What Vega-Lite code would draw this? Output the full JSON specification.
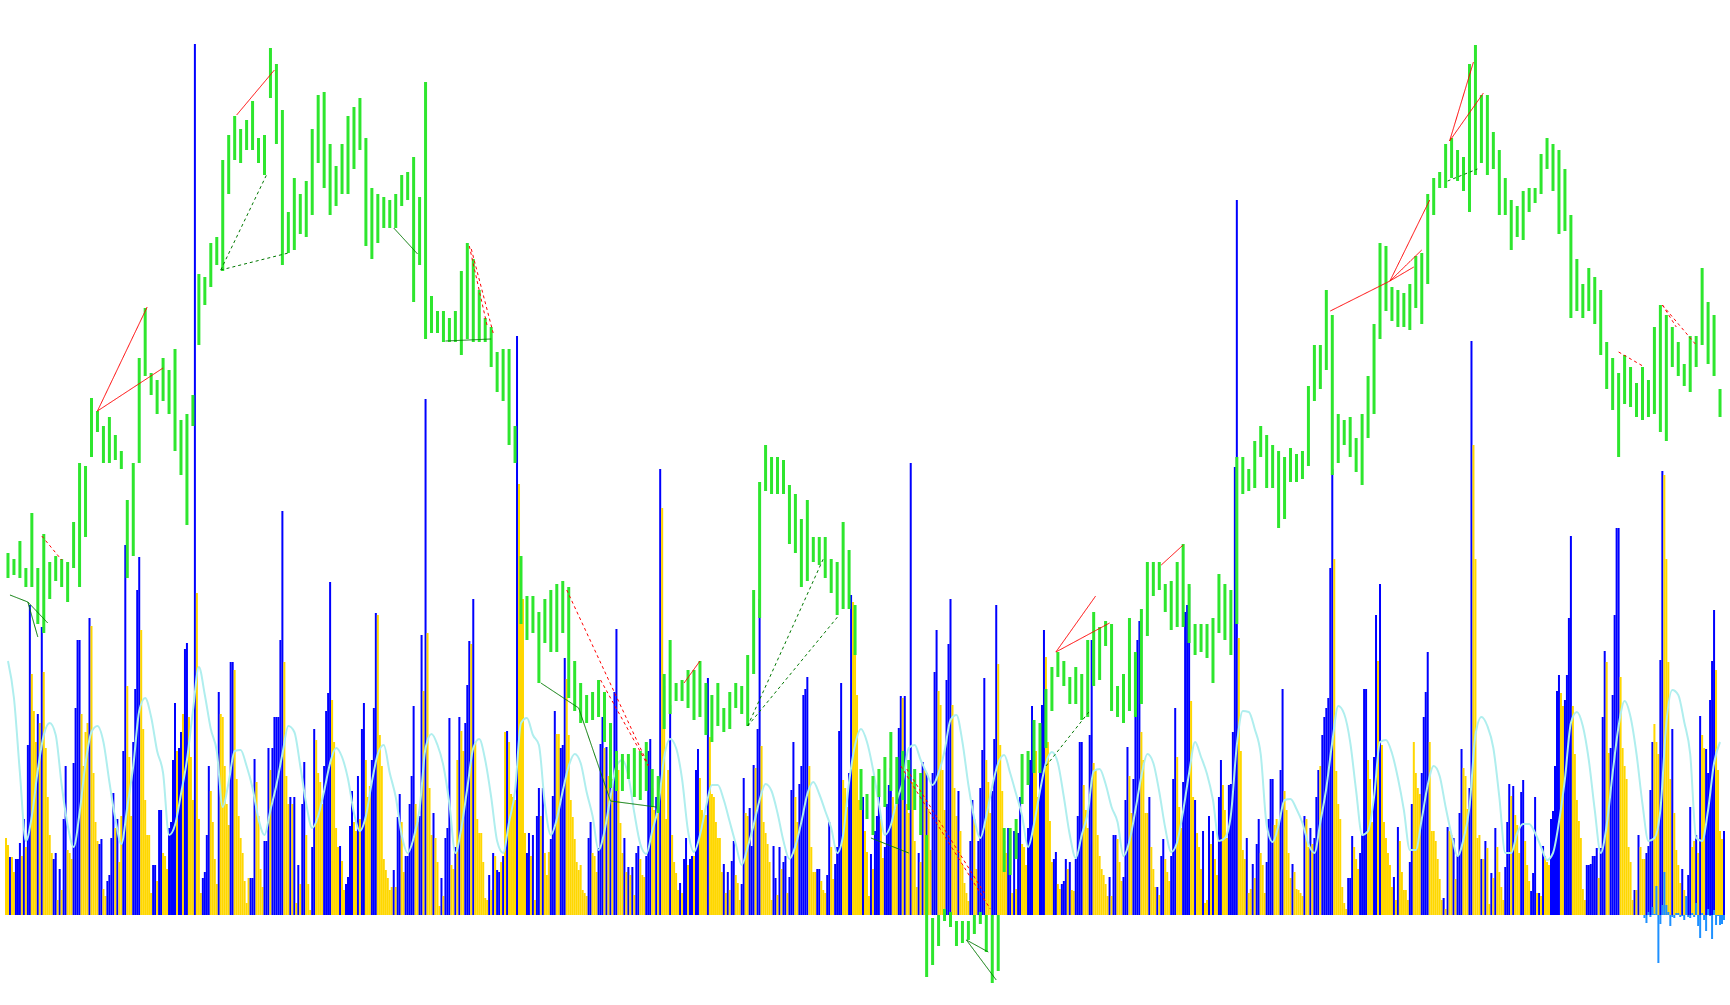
{
"$schema":"https://vega.github.io/schema/vega-lite/v6.json",
"width":1730,"height":1005,
"autosize":{"type":"fit","contains":"padding"},
"padding":0,
"background":"white",
"config":{"view":{"stroke":null}},
"resolve":{"scale":{"color":"independent","strokeDash":"independent"}},
"datasets":{
"vol":[
{"n":0,"v":77,"c":"g"},{"n":1,"v":70,"c":"g"},{"n":2,"v":58,"c":"b"},{"n":3,"v":58,"c":"g"},{"n":4,"v":43,"c":"g"},{"n":5,"v":56,"c":"b"},{"n":6,"v":56,"c":"b"},{"n":7,"v":72,"c":"b"},{"n":8,"v":59,"c":"g"},{"n":9,"v":96,"c":"b"},
{"n":10,"v":68,"c":"g"},{"n":11,"v":170,"c":"b"},{"n":12,"v":310,"c":"b"},{"n":13,"v":241,"c":"g"},{"n":14,"v":204,"c":"g"},{"n":15,"v":173,"c":"g"},{"n":16,"v":201,"c":"b"},{"n":17,"v":192,"c":"g"},{"n":18,"v":288,"c":"b"},{"n":19,"v":243,"c":"g"},
{"n":20,"v":167,"c":"g"},{"n":21,"v":118,"c":"g"},{"n":22,"v":80,"c":"g"},{"n":23,"v":62,"c":"g"},{"n":24,"v":56,"c":"b"},{"n":25,"v":62,"c":"b"},{"n":26,"v":15,"c":"g"},{"n":27,"v":46,"c":"b"},{"n":28,"v":25,"c":"g"},{"n":29,"v":96,"c":"b"},
{"n":30,"v":149,"c":"b"},{"n":31,"v":65,"c":"g"},{"n":32,"v":62,"c":"g"},{"n":33,"v":56,"c":"g"},{"n":34,"v":152,"c":"b"},{"n":35,"v":207,"c":"b"},{"n":36,"v":275,"c":"b"},{"n":37,"v":275,"c":"b"},{"n":38,"v":201,"c":"g"},{"n":39,"v":149,"c":"g"},
{"n":40,"v":183,"c":"g"},{"n":41,"v":192,"c":"g"},{"n":42,"v":297,"c":"b"},{"n":43,"v":289,"c":"g"},{"n":44,"v":142,"c":"g"},{"n":45,"v":93,"c":"g"},{"n":46,"v":74,"c":"g"},{"n":47,"v":71,"c":"b"},{"n":48,"v":76,"c":"b"},{"n":49,"v":26,"c":"g"},
{"n":50,"v":19,"c":"g"},{"n":51,"v":34,"c":"b"},{"n":52,"v":40,"c":"b"},{"n":53,"v":77,"c":"b"},{"n":54,"v":122,"c":"b"},{"n":55,"v":87,"c":"g"},{"n":56,"v":96,"c":"b"},{"n":57,"v":53,"c":"g"},{"n":58,"v":99,"c":"g"},{"n":59,"v":164,"c":"b"},
{"n":60,"v":370,"c":"b"},{"n":61,"v":229,"c":"g"},{"n":62,"v":158,"c":"g"},{"n":63,"v":99,"c":"g"},{"n":64,"v":173,"c":"b"},{"n":65,"v":226,"c":"b"},{"n":66,"v":325,"c":"b"},{"n":67,"v":358,"c":"b"},{"n":68,"v":285,"c":"g"},{"n":69,"v":186,"c":"g"},
{"n":70,"v":115,"c":"g"},{"n":71,"v":80,"c":"g"},{"n":72,"v":80,"c":"g"},{"n":73,"v":22,"c":"g"},{"n":74,"v":50,"c":"b"},{"n":75,"v":50,"c":"b"},{"n":76,"v":34,"c":"g"},{"n":77,"v":105,"c":"b"},{"n":78,"v":105,"c":"b"},{"n":79,"v":62,"c":"g"},
{"n":80,"v":59,"c":"g"},{"n":81,"v":46,"c":"g"},{"n":82,"v":87,"c":"b"},{"n":83,"v":93,"c":"b"},{"n":84,"v":155,"c":"b"},{"n":85,"v":212,"c":"b"},{"n":86,"v":164,"c":"g"},{"n":87,"v":167,"c":"b"},{"n":88,"v":183,"c":"b"},{"n":89,"v":201,"c":"g"},
{"n":90,"v":266,"c":"b"},{"n":91,"v":272,"c":"b"},{"n":92,"v":198,"c":"g"},{"n":93,"v":158,"c":"g"},{"n":94,"v":115,"c":"g"},{"n":95,"v":871,"c":"b"},{"n":96,"v":322,"c":"g"},{"n":97,"v":96,"c":"g"},{"n":98,"v":22,"c":"g"},{"n":99,"v":37,"c":"b"},
{"n":100,"v":43,"c":"b"},{"n":101,"v":80,"c":"b"},{"n":102,"v":149,"c":"b"},{"n":103,"v":124,"c":"g"},{"n":104,"v":93,"c":"g"},{"n":105,"v":56,"c":"g"},{"n":106,"v":31,"c":"g"},{"n":107,"v":223,"c":"b"},{"n":108,"v":201,"c":"g"},{"n":109,"v":198,"c":"g"},
{"n":110,"v":149,"c":"g"},{"n":111,"v":111,"c":"g"},{"n":112,"v":90,"c":"g"},{"n":113,"v":253,"c":"b"},{"n":114,"v":253,"c":"b"},{"n":115,"v":245,"c":"g"},{"n":116,"v":136,"c":"g"},{"n":117,"v":99,"c":"g"},{"n":118,"v":77,"c":"g"},{"n":119,"v":62,"c":"g"},
{"n":120,"v":34,"c":"g"},{"n":121,"v":12,"c":"g"},{"n":122,"v":37,"c":"g"},{"n":123,"v":37,"c":"b"},{"n":124,"v":37,"c":"b"},{"n":125,"v":156,"c":"b"},{"n":126,"v":133,"c":"g"},{"n":127,"v":99,"c":"g"},{"n":128,"v":46,"c":"g"},{"n":129,"v":28,"c":"g"},
{"n":130,"v":74,"c":"b"},{"n":131,"v":74,"c":"b"},{"n":132,"v":167,"c":"b"},{"n":133,"v":145,"c":"g"},{"n":134,"v":167,"c":"b"},{"n":135,"v":198,"c":"b"},{"n":136,"v":198,"c":"b"},{"n":137,"v":198,"c":"b"},{"n":138,"v":275,"c":"b"},{"n":139,"v":404,"c":"b"},
{"n":140,"v":253,"c":"g"},{"n":141,"v":139,"c":"g"},{"n":142,"v":111,"c":"g"},{"n":143,"v":118,"c":"b"},{"n":144,"v":111,"c":"g"},{"n":145,"v":118,"c":"b"},{"n":146,"v":12,"c":"g"},{"n":147,"v":50,"c":"b"},{"n":148,"v":31,"c":"g"},{"n":149,"v":111,"c":"b"},
{"n":150,"v":153,"c":"b"},{"n":151,"v":80,"c":"g"},{"n":152,"v":31,"c":"g"},{"n":153,"v":5,"c":"g"},{"n":154,"v":68,"c":"b"},{"n":155,"v":186,"c":"b"},{"n":156,"v":175,"c":"g"},{"n":157,"v":142,"c":"g"},{"n":158,"v":133,"c":"g"},{"n":159,"v":111,"c":"g"},
{"n":160,"v":149,"c":"b"},{"n":161,"v":204,"c":"b"},{"n":162,"v":222,"c":"b"},{"n":163,"v":333,"c":"b"},{"n":164,"v":215,"c":"g"},{"n":165,"v":173,"c":"g"},{"n":166,"v":87,"c":"g"},{"n":167,"v":68,"c":"g"},{"n":168,"v":69,"c":"b"},{"n":169,"v":54,"c":"g"},
{"n":170,"v":25,"c":"g"},{"n":171,"v":31,"c":"b"},{"n":172,"v":38,"c":"b"},{"n":173,"v":89,"c":"b"},{"n":174,"v":124,"c":"b"},{"n":175,"v":93,"c":"g"},{"n":176,"v":84,"c":"g"},{"n":177,"v":139,"c":"b"},{"n":178,"v":96,"c":"g"},{"n":179,"v":186,"c":"b"},
{"n":180,"v":212,"c":"b"},{"n":181,"v":155,"c":"g"},{"n":182,"v":118,"c":"g"},{"n":183,"v":129,"c":"g"},{"n":184,"v":155,"c":"b"},{"n":185,"v":207,"c":"b"},{"n":186,"v":302,"c":"b"},{"n":187,"v":300,"c":"g"},{"n":188,"v":180,"c":"g"},{"n":189,"v":149,"c":"g"},
{"n":190,"v":56,"c":"g"},{"n":191,"v":45,"c":"g"},{"n":192,"v":37,"c":"g"},{"n":193,"v":25,"c":"g"},{"n":194,"v":28,"c":"g"},{"n":195,"v":45,"c":"b"},{"n":196,"v":28,"c":"g"},{"n":197,"v":98,"c":"b"},{"n":198,"v":121,"c":"b"},{"n":199,"v":93,"c":"g"},
{"n":200,"v":43,"c":"g"},{"n":201,"v":59,"c":"b"},{"n":202,"v":59,"c":"b"},{"n":203,"v":111,"c":"b"},{"n":204,"v":139,"c":"b"},{"n":205,"v":209,"c":"b"},{"n":206,"v":111,"c":"g"},{"n":207,"v":93,"c":"g"},{"n":208,"v":99,"c":"b"},{"n":209,"v":280,"c":"b"},
{"n":210,"v":224,"c":"g"},{"n":211,"v":516,"c":"b"},{"n":212,"v":282,"c":"g"},{"n":213,"v":127,"c":"g"},{"n":214,"v":80,"c":"g"},{"n":215,"v":102,"c":"b"},{"n":216,"v":77,"c":"g"},{"n":217,"v":53,"c":"g"},{"n":218,"v":9,"c":"g"},{"n":219,"v":37,"c":"b"},
{"n":220,"v":19,"c":"g"},{"n":221,"v":77,"c":"b"},{"n":222,"v":87,"c":"b"},{"n":223,"v":197,"c":"b"},{"n":224,"v":50,"c":"g"},{"n":225,"v":46,"c":"g"},{"n":226,"v":68,"c":"b"},{"n":227,"v":155,"c":"g"},{"n":228,"v":198,"c":"b"},{"n":229,"v":184,"c":"g"},
{"n":230,"v":164,"c":"g"},{"n":231,"v":192,"c":"b"},{"n":232,"v":230,"c":"b"},{"n":233,"v":274,"c":"b"},{"n":234,"v":271,"c":"g"},{"n":235,"v":316,"c":"b"},{"n":236,"v":173,"c":"g"},{"n":237,"v":96,"c":"g"},{"n":238,"v":82,"c":"g"},{"n":239,"v":82,"c":"g"},
{"n":240,"v":53,"c":"g"},{"n":241,"v":17,"c":"g"},{"n":242,"v":15,"c":"g"},{"n":243,"v":40,"c":"b"},{"n":244,"v":25,"c":"g"},{"n":245,"v":62,"c":"b"},{"n":246,"v":59,"c":"g"},{"n":247,"v":45,"c":"b"},{"n":248,"v":43,"c":"b"},{"n":249,"v":53,"c":"g"},
{"n":250,"v":59,"c":"b"},{"n":251,"v":183,"c":"g"},{"n":252,"v":184,"c":"b"},{"n":253,"v":173,"c":"g"},{"n":254,"v":121,"c":"g"},{"n":255,"v":118,"c":"g"},{"n":256,"v":115,"c":"g"},{"n":257,"v":579,"c":"b"},{"n":258,"v":431,"c":"g"},{"n":259,"v":359,"c":"g"},
{"n":260,"v":316,"c":"g"},{"n":261,"v":82,"c":"g"},{"n":262,"v":62,"c":"b"},{"n":263,"v":82,"c":"b"},{"n":264,"v":59,"c":"g"},{"n":265,"v":80,"c":"b"},{"n":266,"v":15,"c":"g"},{"n":267,"v":99,"c":"b"},{"n":268,"v":127,"c":"b"},{"n":269,"v":99,"c":"g"},
{"n":270,"v":127,"c":"b"},{"n":271,"v":62,"c":"g"},{"n":272,"v":40,"c":"g"},{"n":273,"v":63,"c":"g"},{"n":274,"v":76,"c":"b"},{"n":275,"v":119,"c":"b"},{"n":276,"v":204,"c":"b"},{"n":277,"v":181,"c":"g"},{"n":278,"v":181,"c":"g"},{"n":279,"v":167,"c":"b"},
{"n":280,"v":170,"c":"b"},{"n":281,"v":257,"c":"b"},{"n":282,"v":236,"c":"g"},{"n":283,"v":180,"c":"g"},{"n":284,"v":115,"c":"g"},{"n":285,"v":98,"c":"g"},{"n":286,"v":76,"c":"g"},{"n":287,"v":53,"c":"g"},{"n":288,"v":45,"c":"g"},{"n":289,"v":50,"c":"g"},
{"n":290,"v":25,"c":"g"},{"n":291,"v":22,"c":"g"},{"n":292,"v":19,"c":"g"},{"n":293,"v":77,"c":"b"},{"n":294,"v":93,"c":"b"},{"n":295,"v":62,"c":"g"},{"n":296,"v":59,"c":"g"},{"n":297,"v":43,"c":"g"},{"n":298,"v":67,"c":"b"},{"n":299,"v":171,"c":"b"},
{"n":300,"v":198,"c":"b"},{"n":301,"v":167,"c":"g"},{"n":302,"v":168,"c":"b"},{"n":303,"v":139,"c":"g"},{"n":304,"v":162,"c":"b"},{"n":305,"v":136,"c":"g"},{"n":306,"v":223,"c":"b"},{"n":307,"v":286,"c":"b"},{"n":308,"v":145,"c":"g"},{"n":309,"v":92,"c":"g"},
{"n":310,"v":62,"c":"g"},{"n":311,"v":77,"c":"b"},{"n":312,"v":43,"c":"g"},{"n":313,"v":48,"c":"b"},{"n":314,"v":40,"c":"g"},{"n":315,"v":48,"c":"b"},{"n":316,"v":20,"c":"g"},{"n":317,"v":62,"c":"b"},{"n":318,"v":69,"c":"b"},{"n":319,"v":56,"c":"g"},
{"n":320,"v":40,"c":"g"},{"n":321,"v":38,"c":"g"},{"n":322,"v":59,"c":"b"},{"n":323,"v":164,"c":"b"},{"n":324,"v":176,"c":"b"},{"n":325,"v":127,"c":"g"},{"n":326,"v":105,"c":"g"},{"n":327,"v":118,"c":"b"},{"n":328,"v":136,"c":"g"},{"n":329,"v":446,"c":"b"},
{"n":330,"v":407,"c":"g"},{"n":331,"v":229,"c":"g"},{"n":332,"v":96,"c":"g"},{"n":333,"v":145,"c":"g"},{"n":334,"v":210,"c":"b"},{"n":335,"v":80,"c":"g"},{"n":336,"v":53,"c":"g"},{"n":337,"v":42,"c":"g"},{"n":338,"v":25,"c":"g"},{"n":339,"v":32,"c":"b"},
{"n":340,"v":22,"c":"g"},{"n":341,"v":56,"c":"b"},{"n":342,"v":77,"c":"b"},{"n":343,"v":50,"c":"g"},{"n":344,"v":56,"c":"b"},{"n":345,"v":59,"c":"b"},{"n":346,"v":59,"c":"g"},{"n":347,"v":145,"c":"b"},{"n":348,"v":166,"c":"b"},{"n":349,"v":137,"c":"g"},
{"n":350,"v":105,"c":"g"},{"n":351,"v":99,"c":"g"},{"n":352,"v":100,"c":"g"},{"n":353,"v":237,"c":"b"},{"n":354,"v":178,"c":"g"},{"n":355,"v":121,"c":"g"},{"n":356,"v":118,"c":"g"},{"n":357,"v":93,"c":"g"},{"n":358,"v":77,"c":"g"},{"n":359,"v":77,"c":"g"},
{"n":360,"v":43,"c":"g"},{"n":361,"v":51,"c":"b"},{"n":362,"v":22,"c":"g"},{"n":363,"v":43,"c":"b"},{"n":364,"v":25,"c":"g"},{"n":365,"v":54,"c":"b"},{"n":366,"v":74,"c":"b"},{"n":367,"v":40,"c":"g"},{"n":368,"v":32,"c":"g"},{"n":369,"v":15,"c":"g"},
{"n":370,"v":31,"c":"b"},{"n":371,"v":137,"c":"b"},{"n":372,"v":102,"c":"g"},{"n":373,"v":99,"c":"g"},{"n":374,"v":107,"c":"b"},{"n":375,"v":69,"c":"b"},{"n":376,"v":150,"c":"b"},{"n":377,"v":147,"c":"g"},{"n":378,"v":186,"c":"b"},{"n":379,"v":316,"c":"b"},
{"n":380,"v":169,"c":"g"},{"n":381,"v":93,"c":"g"},{"n":382,"v":82,"c":"g"},{"n":383,"v":71,"c":"g"},{"n":384,"v":53,"c":"g"},{"n":385,"v":15,"c":"g"},{"n":386,"v":69,"c":"b"},{"n":387,"v":37,"c":"b"},{"n":388,"v":20,"c":"g"},{"n":389,"v":68,"c":"b"},
{"n":390,"v":46,"c":"g"},{"n":391,"v":53,"c":"b"},{"n":392,"v":59,"c":"b"},{"n":393,"v":22,"c":"g"},{"n":394,"v":38,"c":"b"},{"n":395,"v":125,"c":"b"},{"n":396,"v":173,"c":"b"},{"n":397,"v":118,"c":"g"},{"n":398,"v":93,"c":"g"},{"n":399,"v":131,"c":"b"},
{"n":400,"v":149,"c":"b"},{"n":401,"v":220,"c":"b"},{"n":402,"v":226,"c":"b"},{"n":403,"v":238,"c":"b"},{"n":404,"v":149,"c":"g"},{"n":405,"v":68,"c":"g"},{"n":406,"v":43,"c":"g"},{"n":407,"v":43,"c":"g"},{"n":408,"v":46,"c":"b"},{"n":409,"v":46,"c":"b"},
{"n":410,"v":34,"c":"g"},{"n":411,"v":25,"c":"g"},{"n":412,"v":22,"c":"g"},{"n":413,"v":40,"c":"b"},{"n":414,"v":93,"c":"b"},{"n":415,"v":68,"c":"g"},{"n":416,"v":36,"c":"g"},{"n":417,"v":51,"c":"b"},{"n":418,"v":68,"c":"b"},{"n":419,"v":184,"c":"b"},
{"n":420,"v":232,"c":"b"},{"n":421,"v":135,"c":"g"},{"n":422,"v":127,"c":"g"},{"n":423,"v":108,"c":"g"},{"n":424,"v":142,"c":"b"},{"n":425,"v":320,"c":"b"},{"n":426,"v":313,"c":"g"},{"n":427,"v":274,"c":"g"},{"n":428,"v":220,"c":"g"},{"n":429,"v":115,"c":"g"},
{"n":430,"v":115,"c":"g"},{"n":431,"v":118,"c":"b"},{"n":432,"v":84,"c":"g"},{"n":433,"v":63,"c":"g"},{"n":434,"v":19,"c":"g"},{"n":435,"v":61,"c":"b"},{"n":436,"v":46,"c":"g"},{"n":437,"v":84,"c":"b"},{"n":438,"v":99,"c":"b"},{"n":439,"v":130,"c":"b"},
{"n":440,"v":96,"c":"g"},{"n":441,"v":57,"c":"g"},{"n":442,"v":68,"c":"b"},{"n":443,"v":111,"c":"b"},{"n":444,"v":130,"c":"b"},{"n":445,"v":147,"c":"b"},{"n":446,"v":118,"c":"g"},{"n":447,"v":106,"c":"g"},{"n":448,"v":145,"c":"g"},{"n":449,"v":187,"c":"b"},
{"n":450,"v":219,"c":"b"},{"n":451,"v":217,"c":"g"},{"n":452,"v":219,"c":"b"},{"n":453,"v":111,"c":"g"},{"n":454,"v":102,"c":"g"},{"n":455,"v":452,"c":"b"},{"n":456,"v":133,"c":"g"},{"n":457,"v":74,"c":"g"},{"n":458,"v":28,"c":"g"},{"n":459,"v":62,"c":"b"},
{"n":460,"v":53,"c":"g"},{"n":461,"v":153,"c":"b"},{"n":462,"v":145,"c":"g"},{"n":463,"v":142,"c":"b"},{"n":464,"v":106,"c":"g"},{"n":465,"v":65,"c":"g"},{"n":466,"v":142,"c":"b"},{"n":467,"v":243,"c":"b"},{"n":468,"v":285,"c":"b"},{"n":469,"v":224,"c":"g"},
{"n":470,"v":210,"c":"g"},{"n":471,"v":145,"c":"g"},{"n":472,"v":105,"c":"g"},{"n":473,"v":235,"c":"b"},{"n":474,"v":271,"c":"b"},{"n":475,"v":316,"c":"b"},{"n":476,"v":210,"c":"g"},{"n":477,"v":127,"c":"g"},{"n":478,"v":99,"c":"g"},{"n":479,"v":124,"c":"b"},
{"n":480,"v":84,"c":"g"},{"n":481,"v":50,"c":"g"},{"n":482,"v":32,"c":"g"},{"n":483,"v":22,"c":"g"},{"n":484,"v":14,"c":"g"},{"n":485,"v":74,"c":"b"},{"n":486,"v":115,"c":"b"},{"n":487,"v":96,"c":"g"},{"n":488,"v":46,"c":"g"},{"n":489,"v":74,"c":"b"},
{"n":490,"v":127,"c":"b"},{"n":491,"v":165,"c":"b"},{"n":492,"v":237,"c":"b"},{"n":493,"v":155,"c":"g"},{"n":494,"v":133,"c":"g"},{"n":495,"v":102,"c":"g"},{"n":496,"v":124,"c":"b"},{"n":497,"v":176,"c":"b"},{"n":498,"v":310,"c":"b"},{"n":499,"v":251,"c":"g"},
{"n":500,"v":170,"c":"g"},{"n":501,"v":124,"c":"g"},{"n":502,"v":74,"c":"g"},{"n":503,"v":62,"c":"g"},{"n":504,"v":87,"c":"b"},{"n":505,"v":84,"c":"b"},{"n":506,"v":22,"c":"g"},{"n":507,"v":84,"c":"b"},{"n":508,"v":26,"c":"g"},{"n":509,"v":82,"c":"b"},
{"n":510,"v":118,"c":"b"},{"n":511,"v":71,"c":"g"},{"n":512,"v":68,"c":"g"},{"n":513,"v":50,"c":"g"},{"n":514,"v":87,"c":"b"},{"n":515,"v":155,"c":"b"},{"n":516,"v":209,"c":"b"},{"n":517,"v":180,"c":"g"},{"n":518,"v":164,"c":"g"},{"n":519,"v":118,"c":"g"},
{"n":520,"v":180,"c":"b"},{"n":521,"v":210,"c":"b"},{"n":522,"v":285,"c":"b"},{"n":523,"v":258,"c":"g"},{"n":524,"v":173,"c":"g"},{"n":525,"v":94,"c":"g"},{"n":526,"v":53,"c":"g"},{"n":527,"v":56,"c":"b"},{"n":528,"v":63,"c":"b"},{"n":529,"v":31,"c":"g"},
{"n":530,"v":26,"c":"g"},{"n":531,"v":31,"c":"b"},{"n":532,"v":34,"c":"b"},{"n":533,"v":56,"c":"b"},{"n":534,"v":46,"c":"g"},{"n":535,"v":53,"c":"b"},{"n":536,"v":25,"c":"g"},{"n":537,"v":24,"c":"g"},{"n":538,"v":56,"c":"b"},{"n":539,"v":99,"c":"b"},
{"n":540,"v":173,"c":"b"},{"n":541,"v":173,"c":"b"},{"n":542,"v":130,"c":"g"},{"n":543,"v":105,"c":"g"},{"n":544,"v":87,"c":"g"},{"n":545,"v":180,"c":"b"},{"n":546,"v":275,"c":"b"},{"n":547,"v":152,"c":"g"},{"n":548,"v":145,"c":"g"},{"n":549,"v":80,"c":"g"},
{"n":550,"v":59,"c":"g"},{"n":551,"v":46,"c":"g"},{"n":552,"v":40,"c":"g"},{"n":553,"v":31,"c":"g"},{"n":554,"v":19,"c":"g"},{"n":555,"v":38,"c":"b"},{"n":556,"v":19,"c":"g"},{"n":557,"v":80,"c":"b"},{"n":558,"v":80,"c":"b"},{"n":559,"v":76,"c":"g"},
{"n":560,"v":53,"c":"g"},{"n":561,"v":34,"c":"g"},{"n":562,"v":38,"c":"b"},{"n":563,"v":115,"c":"b"},{"n":564,"v":168,"c":"b"},{"n":565,"v":139,"c":"g"},{"n":566,"v":102,"c":"g"},{"n":567,"v":136,"c":"b"},{"n":568,"v":207,"c":"b"},{"n":569,"v":275,"c":"b"},
{"n":570,"v":294,"c":"b"},{"n":571,"v":183,"c":"g"},{"n":572,"v":155,"c":"g"},{"n":573,"v":102,"c":"g"},{"n":574,"v":102,"c":"g"},{"n":575,"v":118,"c":"b"},{"n":576,"v":68,"c":"g"},{"n":577,"v":46,"c":"g"},{"n":578,"v":28,"c":"g"},{"n":579,"v":28,"c":"b"},
{"n":580,"v":20,"c":"g"},{"n":581,"v":59,"c":"b"},{"n":582,"v":76,"c":"b"},{"n":583,"v":56,"c":"g"},{"n":584,"v":43,"c":"g"},{"n":585,"v":34,"c":"g"},{"n":586,"v":59,"c":"b"},{"n":587,"v":136,"c":"b"},{"n":588,"v":207,"c":"b"},{"n":589,"v":158,"c":"g"},
{"n":590,"v":108,"c":"g"},{"n":591,"v":87,"c":"g"},{"n":592,"v":133,"c":"b"},{"n":593,"v":303,"c":"b"},{"n":594,"v":310,"c":"b"},{"n":595,"v":328,"c":"b"},{"n":596,"v":214,"c":"g"},{"n":597,"v":118,"c":"g"},{"n":598,"v":115,"c":"b"},{"n":599,"v":82,"c":"g"},
{"n":600,"v":68,"c":"g"},{"n":601,"v":46,"c":"g"},{"n":602,"v":84,"c":"b"},{"n":603,"v":12,"c":"g"},{"n":604,"v":15,"c":"g"},{"n":605,"v":99,"c":"b"},{"n":606,"v":71,"c":"g"},{"n":607,"v":84,"c":"b"},{"n":608,"v":56,"c":"g"},{"n":609,"v":40,"c":"g"},
{"n":610,"v":118,"c":"b"},{"n":611,"v":155,"c":"b"},{"n":612,"v":130,"c":"g"},{"n":613,"v":105,"c":"g"},{"n":614,"v":77,"c":"g"},{"n":615,"v":130,"c":"b"},{"n":616,"v":131,"c":"b"},{"n":617,"v":183,"c":"b"},{"n":618,"v":448,"c":"b"},{"n":619,"v":715,"c":"b"},
{"n":620,"v":277,"c":"g"},{"n":621,"v":164,"c":"g"},{"n":622,"v":65,"c":"g"},{"n":623,"v":56,"c":"g"},{"n":624,"v":77,"c":"b"},{"n":625,"v":22,"c":"g"},{"n":626,"v":26,"c":"g"},{"n":627,"v":51,"c":"b"},{"n":628,"v":37,"c":"g"},{"n":629,"v":71,"c":"b"},
{"n":630,"v":96,"c":"b"},{"n":631,"v":62,"c":"g"},{"n":632,"v":50,"c":"g"},{"n":633,"v":22,"c":"g"},{"n":634,"v":53,"c":"b"},{"n":635,"v":96,"c":"b"},{"n":636,"v":136,"c":"b"},{"n":637,"v":136,"c":"b"},{"n":638,"v":90,"c":"g"},{"n":639,"v":96,"c":"g"},
{"n":640,"v":90,"c":"g"},{"n":641,"v":145,"c":"b"},{"n":642,"v":226,"c":"b"},{"n":643,"v":124,"c":"g"},{"n":644,"v":105,"c":"g"},{"n":645,"v":62,"c":"g"},{"n":646,"v":37,"c":"g"},{"n":647,"v":51,"c":"b"},{"n":648,"v":43,"c":"g"},{"n":649,"v":26,"c":"g"},
{"n":650,"v":25,"c":"g"},{"n":651,"v":22,"c":"g"},{"n":652,"v":19,"c":"g"},{"n":653,"v":99,"c":"b"},{"n":654,"v":96,"c":"g"},{"n":655,"v":68,"c":"g"},{"n":656,"v":87,"c":"b"},{"n":657,"v":71,"c":"g"},{"n":658,"v":77,"c":"b"},{"n":659,"v":118,"c":"b"},
{"n":660,"v":145,"c":"b"},{"n":661,"v":149,"c":"g"},{"n":662,"v":180,"c":"b"},{"n":663,"v":198,"c":"b"},{"n":664,"v":207,"c":"b"},{"n":665,"v":217,"c":"b"},{"n":666,"v":347,"c":"b"},{"n":667,"v":446,"c":"b"},{"n":668,"v":356,"c":"g"},{"n":669,"v":144,"c":"g"},
{"n":670,"v":111,"c":"g"},{"n":671,"v":96,"c":"g"},{"n":672,"v":28,"c":"g"},{"n":673,"v":12,"c":"g"},{"n":674,"v":6,"c":"g"},{"n":675,"v":37,"c":"b"},{"n":676,"v":37,"c":"b"},{"n":677,"v":79,"c":"b"},{"n":678,"v":68,"c":"g"},{"n":679,"v":56,"c":"g"},
{"n":680,"v":46,"c":"g"},{"n":681,"v":62,"c":"b"},{"n":682,"v":80,"c":"b"},{"n":683,"v":226,"c":"b"},{"n":684,"v":226,"c":"b"},{"n":685,"v":155,"c":"g"},{"n":686,"v":136,"c":"g"},{"n":687,"v":93,"c":"g"},{"n":688,"v":158,"c":"b"},{"n":689,"v":300,"c":"b"},
{"n":690,"v":254,"c":"g"},{"n":691,"v":331,"c":"b"},{"n":692,"v":170,"c":"g"},{"n":693,"v":93,"c":"g"},{"n":694,"v":77,"c":"g"},{"n":695,"v":62,"c":"g"},{"n":696,"v":50,"c":"g"},{"n":697,"v":28,"c":"g"},{"n":698,"v":38,"c":"b"},{"n":699,"v":15,"c":"g"},
{"n":700,"v":88,"c":"b"},{"n":701,"v":74,"c":"g"},{"n":702,"v":43,"c":"g"},{"n":703,"v":25,"c":"g"},{"n":704,"v":25,"c":"g"},{"n":705,"v":15,"c":"g"},{"n":706,"v":53,"c":"b"},{"n":707,"v":111,"c":"b"},{"n":708,"v":173,"c":"g"},{"n":709,"v":142,"c":"g"},
{"n":710,"v":127,"c":"g"},{"n":711,"v":121,"c":"g"},{"n":712,"v":142,"c":"b"},{"n":713,"v":198,"c":"b"},{"n":714,"v":223,"c":"b"},{"n":715,"v":263,"c":"b"},{"n":716,"v":173,"c":"g"},{"n":717,"v":84,"c":"g"},{"n":718,"v":84,"c":"g"},{"n":719,"v":74,"c":"g"},
{"n":720,"v":56,"c":"g"},{"n":721,"v":36,"c":"g"},{"n":722,"v":15,"c":"g"},{"n":723,"v":17,"c":"b"},{"n":724,"v":6,"c":"g"},{"n":725,"v":88,"c":"b"},{"n":726,"v":84,"c":"g"},{"n":727,"v":80,"c":"g"},{"n":728,"v":77,"c":"b"},{"n":729,"v":36,"c":"g"},
{"n":730,"v":59,"c":"b"},{"n":731,"v":102,"c":"b"},{"n":732,"v":166,"c":"b"},{"n":733,"v":147,"c":"g"},{"n":734,"v":139,"c":"g"},{"n":735,"v":106,"c":"g"},{"n":736,"v":127,"c":"b"},{"n":737,"v":574,"c":"b"},{"n":738,"v":470,"c":"g"},{"n":739,"v":356,"c":"g"},
{"n":740,"v":77,"c":"g"},{"n":741,"v":80,"c":"g"},{"n":742,"v":56,"c":"b"},{"n":743,"v":56,"c":"g"},{"n":744,"v":74,"c":"b"},{"n":745,"v":67,"c":"g"},{"n":746,"v":11,"c":"g"},{"n":747,"v":42,"c":"b"},{"n":748,"v":37,"c":"g"},{"n":749,"v":87,"c":"b"},
{"n":750,"v":68,"c":"g"},{"n":751,"v":43,"c":"g"},{"n":752,"v":28,"c":"g"},{"n":753,"v":15,"c":"g"},{"n":754,"v":48,"c":"b"},{"n":755,"v":93,"c":"b"},{"n":756,"v":131,"c":"b"},{"n":757,"v":119,"c":"g"},{"n":758,"v":129,"c":"b"},{"n":759,"v":100,"c":"g"},
{"n":760,"v":90,"c":"g"},{"n":761,"v":62,"c":"g"},{"n":762,"v":123,"c":"b"},{"n":763,"v":135,"c":"b"},{"n":764,"v":74,"c":"g"},{"n":765,"v":50,"c":"g"},{"n":766,"v":34,"c":"g"},{"n":767,"v":24,"c":"b"},{"n":768,"v":42,"c":"b"},{"n":769,"v":118,"c":"b"},
{"n":770,"v":22,"c":"g"},{"n":771,"v":22,"c":"b"},{"n":772,"v":19,"c":"g"},{"n":773,"v":69,"c":"b"},{"n":774,"v":59,"c":"g"},{"n":775,"v":53,"c":"g"},{"n":776,"v":50,"c":"g"},{"n":777,"v":96,"c":"b"},{"n":778,"v":104,"c":"b"},{"n":779,"v":149,"c":"b"},
{"n":780,"v":224,"c":"b"},{"n":781,"v":240,"c":"b"},{"n":782,"v":222,"c":"g"},{"n":783,"v":209,"c":"g"},{"n":784,"v":215,"c":"b"},{"n":785,"v":240,"c":"b"},{"n":786,"v":297,"c":"b"},{"n":787,"v":379,"c":"b"},{"n":788,"v":209,"c":"g"},{"n":789,"v":161,"c":"g"},
{"n":790,"v":115,"c":"g"},{"n":791,"v":94,"c":"g"},{"n":792,"v":77,"c":"g"},{"n":793,"v":26,"c":"g"},{"n":794,"v":15,"c":"g"},{"n":795,"v":50,"c":"b"},{"n":796,"v":50,"c":"b"},{"n":797,"v":51,"c":"b"},{"n":798,"v":59,"c":"b"},{"n":799,"v":59,"c":"b"},
{"n":800,"v":67,"c":"b"},{"n":801,"v":37,"c":"g"},{"n":802,"v":67,"c":"b"},{"n":803,"v":198,"c":"b"},{"n":804,"v":264,"c":"b"},{"n":805,"v":253,"c":"g"},{"n":806,"v":162,"c":"g"},{"n":807,"v":167,"c":"b"},{"n":808,"v":220,"c":"b"},{"n":809,"v":300,"c":"b"},
{"n":810,"v":387,"c":"b"},{"n":811,"v":387,"c":"b"},{"n":812,"v":238,"c":"g"},{"n":813,"v":167,"c":"g"},{"n":814,"v":149,"c":"g"},{"n":815,"v":136,"c":"g"},{"n":816,"v":68,"c":"g"},{"n":817,"v":53,"c":"g"},{"n":818,"v":15,"c":"g"},{"n":819,"v":25,"c":"b"},
{"n":820,"v":25,"c":"g"},{"n":821,"v":80,"c":"b"},{"n":822,"v":68,"c":"g"},{"n":823,"v":56,"c":"g"},{"n":824,"v":56,"c":"g"},{"n":825,"v":62,"c":"b"},{"n":826,"v":69,"c":"b"},{"n":827,"v":125,"c":"b"},{"n":828,"v":173,"c":"b"},{"n":829,"v":191,"c":"g"},
{"n":830,"v":173,"c":"g"},{"n":831,"v":161,"c":"g"},{"n":832,"v":255,"c":"b"},{"n":833,"v":444,"c":"b"},{"n":834,"v":440,"c":"g"},{"n":835,"v":356,"c":"g"},{"n":836,"v":253,"c":"g"},{"n":837,"v":136,"c":"g"},{"n":838,"v":186,"c":"b"},{"n":839,"v":102,"c":"g"},
{"n":840,"v":65,"c":"g"},{"n":841,"v":50,"c":"g"},{"n":842,"v":32,"c":"g"},{"n":843,"v":46,"c":"b"},{"n":844,"v":25,"c":"g"},{"n":845,"v":19,"c":"g"},{"n":846,"v":40,"c":"b"},{"n":847,"v":108,"c":"b"},{"n":848,"v":68,"c":"g"},{"n":849,"v":74,"c":"g"},
{"n":850,"v":80,"c":"b"},{"n":851,"v":62,"c":"g"},{"n":852,"v":199,"c":"b"},{"n":853,"v":180,"c":"g"},{"n":854,"v":167,"c":"g"},{"n":855,"v":166,"c":"b"},{"n":856,"v":142,"c":"b"},{"n":857,"v":215,"c":"b"},{"n":858,"v":254,"c":"b"},{"n":859,"v":305,"c":"b"},
{"n":860,"v":245,"c":"g"},{"n":861,"v":145,"c":"g"},{"n":862,"v":84,"c":"g"},{"n":863,"v":76,"c":"g"},{"n":864,"v":84,"c":"b"}
],
"bars":[
{"n":1,"hi":362,"lo":337,"m":254},{"n":4,"hi":356,"lo":340,"m":217},{"n":7,"hi":374,"lo":337,"m":142},{"n":10,"hi":347,"lo":328,"m":74},{"n":13,"hi":402,"lo":328,"m":99},{"n":16,"hi":347,"lo":291,"m":145},{"n":19,"hi":381,"lo":282,"m":180},{"n":22,"hi":353,"lo":316,"m":192},{"n":25,"hi":359,"lo":334,"m":180},{"n":28,"hi":356,"lo":328,"m":130},
{"n":31,"hi":353,"lo":313,"m":90},{"n":34,"hi":393,"lo":347,"m":68},{"n":37,"hi":452,"lo":328,"m":102},{"n":40,"hi":449,"lo":378,"m":152},{"n":43,"hi":517,"lo":458,"m":183},{"n":46,"hi":504,"lo":483,"m":189},{"n":49,"hi":489,"lo":452,"m":173},{"n":52,"hi":498,"lo":452,"m":133},{"n":55,"hi":480,"lo":455,"m":96},{"n":58,"hi":464,"lo":446,"m":71},
{"n":61,"hi":415,"lo":337,"m":108},{"n":64,"hi":452,"lo":359,"m":149},{"n":67,"hi":557,"lo":452,"m":204},{"n":70,"hi":607,"lo":539,"m":217},{"n":73,"hi":542,"lo":520,"m":198},{"n":76,"hi":535,"lo":501,"m":164},{"n":79,"hi":557,"lo":514,"m":142},{"n":82,"hi":545,"lo":501,"m":80},{"n":85,"hi":566,"lo":464,"m":90},{"n":88,"hi":495,"lo":440,"m":121},
{"n":91,"hi":501,"lo":390,"m":155},{"n":94,"hi":520,"lo":489,"m":204},{"n":97,"hi":641,"lo":570,"m":248},{"n":100,"hi":638,"lo":610,"m":220},{"n":103,"hi":672,"lo":628,"m":186},{"n":106,"hi":678,"lo":650,"m":164},{"n":109,"hi":755,"lo":644,"m":108},{"n":112,"hi":780,"lo":721,"m":133},{"n":115,"hi":799,"lo":755,"m":164},{"n":118,"hi":786,"lo":752,"m":165},
{"n":121,"hi":795,"lo":765,"m":149},{"n":124,"hi":814,"lo":765,"m":127},{"n":127,"hi":777,"lo":752,"m":96},{"n":130,"hi":780,"lo":740,"m":80},{"n":133,"hi":867,"lo":817,"m":105},{"n":136,"hi":851,"lo":771,"m":130},{"n":139,"hi":805,"lo":650,"m":161},{"n":142,"hi":703,"lo":662,"m":189},{"n":145,"hi":737,"lo":665,"m":183},{"n":148,"hi":721,"lo":681,"m":149},
{"n":151,"hi":734,"lo":678,"m":111},{"n":154,"hi":786,"lo":700,"m":87},{"n":157,"hi":820,"lo":752,"m":99},{"n":160,"hi":823,"lo":727,"m":124},{"n":163,"hi":771,"lo":700,"m":152},{"n":166,"hi":749,"lo":709,"m":167},{"n":169,"hi":771,"lo":721,"m":158},{"n":172,"hi":799,"lo":721,"m":136},{"n":175,"hi":808,"lo":746,"m":102},{"n":178,"hi":817,"lo":765,"m":84},
{"n":181,"hi":777,"lo":669,"m":99},{"n":184,"hi":727,"lo":656,"m":133},{"n":187,"hi":721,"lo":672,"m":161},{"n":190,"hi":718,"lo":687,"m":170},{"n":193,"hi":715,"lo":687,"m":142},{"n":196,"hi":721,"lo":687,"m":118},{"n":199,"hi":740,"lo":709,"m":80},{"n":202,"hi":743,"lo":715,"m":62},{"n":205,"hi":758,"lo":613,"m":77},{"n":208,"hi":718,"lo":650,"m":106},
{"n":211,"hi":833,"lo":576,"m":167},{"n":214,"hi":619,"lo":582,"m":181},{"n":217,"hi":604,"lo":582,"m":170},{"n":220,"hi":604,"lo":573,"m":149},{"n":223,"hi":597,"lo":573,"m":111},{"n":226,"hi":604,"lo":573,"m":62},{"n":229,"hi":644,"lo":560,"m":87},{"n":232,"hi":672,"lo":576,"m":127},{"n":235,"hi":656,"lo":573,"m":167},{"n":238,"hi":625,"lo":573,"m":176},
{"n":241,"hi":597,"lo":573,"m":155},{"n":244,"hi":588,"lo":548,"m":118},{"n":247,"hi":563,"lo":523,"m":74},{"n":250,"hi":566,"lo":514,"m":62},{"n":253,"hi":566,"lo":470,"m":93},{"n":256,"hi":489,"lo":452,"m":124},{"n":259,"hi":359,"lo":291,"m":192},{"n":262,"hi":319,"lo":275,"m":197},{"n":265,"hi":319,"lo":282,"m":180},{"n":268,"hi":303,"lo":232,"m":170},
{"n":271,"hi":316,"lo":272,"m":111},{"n":274,"hi":325,"lo":263,"m":80},{"n":277,"hi":331,"lo":263,"m":96},{"n":280,"hi":334,"lo":282,"m":124},{"n":283,"hi":328,"lo":217,"m":149},{"n":286,"hi":254,"lo":204,"m":161},{"n":289,"hi":232,"lo":192,"m":152},{"n":292,"hi":220,"lo":192,"m":123},{"n":295,"hi":223,"lo":195,"m":99},{"n":298,"hi":235,"lo":198,"m":65},
{"n":301,"hi":223,"lo":173,"m":84},{"n":304,"hi":192,"lo":127,"m":118},{"n":307,"hi":164,"lo":124,"m":149},{"n":310,"hi":161,"lo":124,"m":155},{"n":313,"hi":161,"lo":136,"m":139},{"n":316,"hi":167,"lo":118,"m":102},{"n":319,"hi":164,"lo":115,"m":71},{"n":322,"hi":173,"lo":124,"m":61},{"n":325,"hi":146,"lo":108,"m":84},{"n":328,"hi":139,"lo":102,"m":108},
{"n":331,"hi":241,"lo":186,"m":158},{"n":334,"hi":275,"lo":201,"m":176},{"n":337,"hi":232,"lo":214,"m":167},{"n":340,"hi":235,"lo":214,"m":136},{"n":343,"hi":245,"lo":207,"m":84},{"n":346,"hi":245,"lo":195,"m":63},{"n":349,"hi":254,"lo":198,"m":80},{"n":352,"hi":232,"lo":180,"m":108},{"n":355,"hi":220,"lo":173,"m":130},{"n":358,"hi":232,"lo":189,"m":130},
{"n":361,"hi":207,"lo":183,"m":115},{"n":364,"hi":223,"lo":186,"m":93},{"n":367,"hi":232,"lo":207,"m":71},{"n":370,"hi":229,"lo":201,"m":50},{"n":373,"hi":260,"lo":189,"m":68},{"n":376,"hi":325,"lo":241,"m":90},{"n":379,"hi":433,"lo":297,"m":115},{"n":382,"hi":470,"lo":424,"m":131},{"n":385,"hi":458,"lo":421,"m":124},{"n":388,"hi":458,"lo":421,"m":102},
{"n":391,"hi":455,"lo":421,"m":74},{"n":394,"hi":430,"lo":371,"m":56},{"n":397,"hi":421,"lo":362,"m":69},{"n":400,"hi":396,"lo":328,"m":93},{"n":403,"hi":415,"lo":334,"m":121},{"n":406,"hi":378,"lo":353,"m":133},{"n":409,"hi":378,"lo":350,"m":121},{"n":412,"hi":378,"lo":337,"m":104},{"n":415,"hi":356,"lo":322,"m":87},{"n":418,"hi":353,"lo":300,"m":62},
{"n":421,"hi":393,"lo":306,"m":80},{"n":424,"hi":365,"lo":306,"m":133},{"n":427,"hi":310,"lo":260,"m":170},{"n":430,"hi":146,"lo":105,"m":186},{"n":433,"hi":121,"lo":96,"m":173},{"n":436,"hi":139,"lo":80,"m":146},{"n":439,"hi":146,"lo":118,"m":111},{"n":442,"hi":158,"lo":108,"m":80},{"n":445,"hi":183,"lo":124,"m":90},{"n":448,"hi":158,"lo":111,"m":115},
{"n":451,"hi":164,"lo":115,"m":133},{"n":454,"hi":155,"lo":105,"m":167},{"n":457,"hi":146,"lo":105,"m":170},{"n":460,"hi":142,"lo":80,"m":155},{"n":463,"hi":80,"lo":-62,"m":142},{"n":466,"hi":-3,"lo":-50,"m":130},{"n":469,"hi":0,"lo":-31,"m":142},{"n":472,"hi":6,"lo":-6,"m":164},{"n":475,"hi":3,"lo":-12,"m":195},{"n":478,"hi":-6,"lo":-31,"m":200},
{"n":481,"hi":-6,"lo":-28,"m":173},{"n":484,"hi":-6,"lo":-25,"m":130},{"n":487,"hi":0,"lo":-19,"m":96},{"n":490,"hi":3,"lo":-9,"m":77},{"n":493,"hi":0,"lo":-37,"m":99},{"n":496,"hi":0,"lo":-68,"m":129},{"n":499,"hi":0,"lo":-56,"m":152},{"n":502,"hi":87,"lo":43,"m":160},{"n":505,"hi":87,"lo":40,"m":142},{"n":508,"hi":96,"lo":56,"m":121},
{"n":511,"hi":161,"lo":111,"m":99},{"n":514,"hi":164,"lo":130,"m":68},{"n":517,"hi":195,"lo":142,"m":91},{"n":520,"hi":192,"lo":142,"m":124},{"n":523,"hi":226,"lo":167,"m":152},{"n":526,"hi":248,"lo":204,"m":163},{"n":529,"hi":263,"lo":238,"m":152},{"n":532,"hi":254,"lo":229,"m":118},{"n":535,"hi":238,"lo":211,"m":80},{"n":538,"hi":248,"lo":211,"m":57},
{"n":541,"hi":241,"lo":195,"m":80},{"n":544,"hi":275,"lo":198,"m":102},{"n":547,"hi":303,"lo":229,"m":144},{"n":550,"hi":288,"lo":235,"m":146},{"n":553,"hi":294,"lo":269,"m":131},{"n":556,"hi":291,"lo":204,"m":108},{"n":559,"hi":229,"lo":198,"m":93},{"n":562,"hi":241,"lo":192,"m":59},{"n":565,"hi":297,"lo":204,"m":74},{"n":568,"hi":263,"lo":198,"m":105},
{"n":571,"hi":306,"lo":211,"m":139},{"n":574,"hi":353,"lo":279,"m":161},{"n":577,"hi":353,"lo":319,"m":152},{"n":580,"hi":353,"lo":325,"m":123},{"n":583,"hi":331,"lo":303,"m":87},{"n":586,"hi":334,"lo":285,"m":63},{"n":589,"hi":353,"lo":288,"m":73},{"n":592,"hi":371,"lo":288,"m":104},{"n":595,"hi":331,"lo":272,"m":142},{"n":598,"hi":291,"lo":260,"m":173},
{"n":601,"hi":291,"lo":263,"m":158},{"n":604,"hi":291,"lo":257,"m":141},{"n":607,"hi":297,"lo":232,"m":115},{"n":610,"hi":341,"lo":282,"m":74},{"n":613,"hi":331,"lo":275,"m":77},{"n":616,"hi":325,"lo":260,"m":100},{"n":619,"hi":458,"lo":291,"m":170},{"n":622,"hi":458,"lo":421,"m":204},{"n":625,"hi":446,"lo":424,"m":203},{"n":628,"hi":474,"lo":427,"m":186},
{"n":631,"hi":489,"lo":458,"m":161},{"n":634,"hi":480,"lo":427,"m":90},{"n":637,"hi":470,"lo":427,"m":73},{"n":640,"hi":464,"lo":387,"m":90},{"n":643,"hi":458,"lo":396,"m":115},{"n":646,"hi":467,"lo":433,"m":116},{"n":649,"hi":461,"lo":433,"m":106},{"n":652,"hi":464,"lo":436,"m":92},{"n":655,"hi":529,"lo":449,"m":71},{"n":658,"hi":570,"lo":514,"m":62},
{"n":661,"hi":570,"lo":526,"m":93},{"n":664,"hi":625,"lo":545,"m":127},{"n":667,"hi":600,"lo":440,"m":173},{"n":670,"hi":501,"lo":452,"m":209},{"n":673,"hi":495,"lo":470,"m":201},{"n":676,"hi":498,"lo":458,"m":173},{"n":679,"hi":477,"lo":443,"m":124},{"n":682,"hi":501,"lo":430,"m":80},{"n":685,"hi":539,"lo":477,"m":84},{"n":688,"hi":591,"lo":501,"m":118},
{"n":691,"hi":672,"lo":576,"m":173},{"n":694,"hi":669,"lo":604,"m":175},{"n":697,"hi":628,"lo":594,"m":162},{"n":700,"hi":625,"lo":588,"m":137},{"n":703,"hi":622,"lo":588,"m":105},{"n":706,"hi":631,"lo":585,"m":65},{"n":709,"hi":659,"lo":607,"m":65},{"n":712,"hi":662,"lo":591,"m":96},{"n":715,"hi":721,"lo":631,"m":130},{"n":718,"hi":737,"lo":700,"m":149},
{"n":721,"hi":743,"lo":727,"m":139},{"n":724,"hi":771,"lo":727,"m":108},{"n":727,"hi":777,"lo":737,"m":80},{"n":730,"hi":765,"lo":734,"m":59},{"n":733,"hi":758,"lo":724,"m":76},{"n":736,"hi":851,"lo":703,"m":108},{"n":739,"hi":870,"lo":740,"m":180},{"n":742,"hi":820,"lo":752,"m":198},{"n":745,"hi":820,"lo":740,"m":189},{"n":748,"hi":783,"lo":746,"m":167},
{"n":751,"hi":765,"lo":700,"m":118},{"n":754,"hi":737,"lo":700,"m":62},{"n":757,"hi":715,"lo":665,"m":62},{"n":760,"hi":709,"lo":678,"m":82},{"n":763,"hi":724,"lo":675,"m":91},{"n":766,"hi":727,"lo":703,"m":91},{"n":769,"hi":727,"lo":712,"m":82},{"n":772,"hi":761,"lo":721,"m":68},{"n":775,"hi":777,"lo":746,"m":55},{"n":778,"hi":771,"lo":724,"m":62},
{"n":781,"hi":765,"lo":681,"m":93},{"n":784,"hi":746,"lo":684,"m":136},{"n":787,"hi":700,"lo":597,"m":192},{"n":790,"hi":656,"lo":604,"m":203},{"n":793,"hi":631,"lo":597,"m":189},{"n":796,"hi":647,"lo":604,"m":155},{"n":799,"hi":638,"lo":591,"m":105},{"n":802,"hi":625,"lo":560,"m":62},{"n":805,"hi":573,"lo":526,"m":90},{"n":808,"hi":557,"lo":505,"m":142},
{"n":811,"hi":542,"lo":458,"m":189},{"n":814,"hi":560,"lo":511,"m":214},{"n":817,"hi":548,"lo":508,"m":198},{"n":820,"hi":532,"lo":498,"m":161},{"n":823,"hi":548,"lo":495,"m":111},{"n":826,"hi":535,"lo":498,"m":74},{"n":829,"hi":588,"lo":501,"m":77},{"n":832,"hi":610,"lo":483,"m":105},{"n":835,"hi":600,"lo":474,"m":192},{"n":838,"hi":588,"lo":548,"m":225},
{"n":841,"hi":573,"lo":539,"m":220},{"n":844,"hi":551,"lo":529,"m":193},{"n":847,"hi":579,"lo":523,"m":161},{"n":850,"hi":579,"lo":548,"m":77},{"n":853,"hi":647,"lo":570,"m":74},{"n":856,"hi":613,"lo":551,"m":105},{"n":859,"hi":600,"lo":539,"m":152},{"n":862,"hi":526,"lo":498,"m":173}
],
"hist":[
{"n":824,"hv":-3},{"n":825,"hv":-8},{"n":826,"hv":3},{"n":827,"hv":-2},{"n":828,"hv":8},{"n":829,"hv":1},{"n":830,"hv":29},{"n":831,"hv":-48},{"n":832,"hv":-9},{"n":833,"hv":10},{"n":834,"hv":43},{"n":835,"hv":10},{"n":836,"hv":3},{"n":837,"hv":-11},{"n":838,"hv":-2},{"n":839,"hv":-3},{"n":840,"hv":2},{"n":841,"hv":2},{"n":842,"hv":-2},{"n":843,"hv":-1},{"n":844,"hv":-5},{"n":845,"hv":19},{"n":846,"hv":-2},{"n":847,"hv":-3},{"n":848,"hv":2},{"n":849,"hv":-2},{"n":850,"hv":12},{"n":851,"hv":-11},{"n":852,"hv":-23},{"n":853,"hv":2},{"n":854,"hv":-5},{"n":855,"hv":-16},{"n":856,"hv":6},{"n":857,"hv":-1},{"n":858,"hv":-24},{"n":859,"hv":5},{"n":860,"hv":-10},{"n":861,"hv":-1},{"n":862,"hv":-10},{"n":863,"hv":-9},{"n":864,"hv":-5}
],
"tl":[
{"g":"rs1","s":"rs","n":46,"h":504},{"g":"rs1","s":"rs","n":71,"h":608},
{"g":"rs2","s":"rs","n":46,"h":504},{"g":"rs2","s":"rs","n":79,"h":547},
{"g":"rs3","s":"rs","n":116,"h":800},{"g":"rs3","s":"rs","n":135,"h":845},
{"g":"rs4","s":"rs","n":341,"h":232},{"g":"rs4","s":"rs","n":349,"h":254},
{"g":"rs5","s":"rs","n":528,"h":263},{"g":"rs5","s":"rs","n":548,"h":319},
{"g":"rs6","s":"rs","n":528,"h":263},{"g":"rs6","s":"rs","n":555,"h":292},
{"g":"rs7","s":"rs","n":581,"h":350},{"g":"rs7","s":"rs","n":592,"h":370},
{"g":"rs8","s":"rs","n":666,"h":604},{"g":"rs8","s":"rs","n":696,"h":634},
{"g":"rs9","s":"rs","n":696,"h":634},{"g":"rs9","s":"rs","n":716,"h":715},
{"g":"rs10","s":"rs","n":696,"h":634},{"g":"rs10","s":"rs","n":712,"h":665},
{"g":"rs11","s":"rs","n":696,"h":634},{"g":"rs11","s":"rs","n":708,"h":648},
{"g":"rs12","s":"rs","n":726,"h":774},{"g":"rs12","s":"rs","n":738,"h":853},
{"g":"rs13","s":"rs","n":726,"h":774},{"g":"rs13","s":"rs","n":743,"h":822},
{"g":"rd1","s":"rd","n":18,"h":379},{"g":"rd1","s":"rd","n":28,"h":355},
{"g":"rd2","s":"rd","n":233,"h":669},{"g":"rd2","s":"rd","n":242,"h":589},
{"g":"rd3","s":"rd","n":234,"h":666},{"g":"rd3","s":"rd","n":245,"h":582},
{"g":"rd4","s":"rd","n":282,"h":325},{"g":"rd4","s":"rd","n":323,"h":150},
{"g":"rd5","s":"rd","n":299,"h":235},{"g":"rd5","s":"rd","n":323,"h":149},
{"g":"rd6","s":"rd","n":450,"h":149},{"g":"rd6","s":"rd","n":495,"h":6},
{"g":"rd7","s":"rd","n":453,"h":146},{"g":"rd7","s":"rd","n":492,"h":22},
{"g":"rd8","s":"rd","n":811,"h":563},{"g":"rd8","s":"rd","n":824,"h":548},
{"g":"rd9","s":"rd","n":833,"h":610},{"g":"rd9","s":"rd","n":850,"h":570},
{"g":"rd10","s":"rd","n":833,"h":610},{"g":"rd10","s":"rd","n":840,"h":588},
{"g":"gs1","s":"gs","n":2,"h":320},{"g":"gs1","s":"gs","n":11,"h":313},
{"g":"gs2","s":"gs","n":11,"h":313},{"g":"gs2","s":"gs","n":16,"h":278},
{"g":"gs3","s":"gs","n":11,"h":313},{"g":"gs3","s":"gs","n":21,"h":292},
{"g":"gs4","s":"gs","n":195,"h":687},{"g":"gs4","s":"gs","n":207,"h":661},
{"g":"gs5","s":"gs","n":221,"h":574},{"g":"gs5","s":"gs","n":244,"h":576},
{"g":"gs6","s":"gs","n":269,"h":232},{"g":"gs6","s":"gs","n":288,"h":207},{"g":"gs6","s":"gs","n":304,"h":114},{"g":"gs6","s":"gs","n":327,"h":108},
{"g":"gs7","s":"gs","n":435,"h":77},{"g":"gs7","s":"gs","n":454,"h":62},
{"g":"gs8","s":"gs","n":483,"h":-25},{"g":"gs8","s":"gs","n":494,"h":-37},
{"g":"gs9","s":"gs","n":483,"h":-25},{"g":"gs9","s":"gs","n":498,"h":-65},
{"g":"gd1","s":"gd","n":108,"h":645},{"g":"gd1","s":"gd","n":131,"h":740},
{"g":"gd2","s":"gd","n":108,"h":645},{"g":"gd2","s":"gd","n":142,"h":662},
{"g":"gd3","s":"gd","n":373,"h":189},{"g":"gd3","s":"gd","n":411,"h":356},
{"g":"gd4","s":"gd","n":373,"h":189},{"g":"gd4","s":"gd","n":419,"h":300},
{"g":"gd5","s":"gd","n":523,"h":149},{"g":"gd5","s":"gd","n":545,"h":204},
{"g":"gd6","s":"gd","n":725,"h":734},{"g":"gd6","s":"gd","n":740,"h":746}
]
},
"layer":[
{"data":{"name":"vol"},
 "mark":{"type":"bar","width":2},
 "encoding":{
  "x":{"field":"n","type":"quantitative","scale":{"domain":[-0.5,864.5],"nice":false,"zero":false},"axis":null},
  "y":{"field":"v","type":"quantitative","scale":{"domain":[-90,915],"nice":false,"zero":false},"axis":null},
  "y2":{"datum":0},
  "color":{"field":"c","type":"nominal","scale":{"domain":["b","g"],"range":["#0000ff","#ffd700"]},"legend":null}}},
{"data":{"name":"hist"},
 "mark":{"type":"bar","width":2,"color":"#1e90ff"},
 "encoding":{
  "x":{"field":"n","type":"quantitative","scale":{"domain":[-0.5,864.5],"nice":false,"zero":false},"axis":null},
  "y":{"field":"hv","type":"quantitative","scale":{"domain":[-90,915],"nice":false,"zero":false},"axis":null},
  "y2":{"datum":0}}},
{"mark":{"type":"rule","color":"#ffffff","strokeDash":[3,3],"strokeWidth":1},
 "encoding":{"y":{"datum":145,"type":"quantitative","scale":{"domain":[-90,915],"nice":false,"zero":false},"axis":null}}},
{"data":{"name":"bars"},
 "mark":{"type":"line","color":"#afeeee","strokeWidth":2,"interpolate":"monotone"},
 "encoding":{
  "x":{"field":"n","type":"quantitative","scale":{"domain":[-0.5,864.5],"nice":false,"zero":false},"axis":null},
  "y":{"field":"m","type":"quantitative","scale":{"domain":[-90,915],"nice":false,"zero":false},"axis":null}}},
{"data":{"name":"bars"},
 "mark":{"type":"rule","color":"#2ee62e","strokeWidth":3},
 "encoding":{
  "x":{"field":"n","type":"quantitative","scale":{"domain":[-0.5,864.5],"nice":false,"zero":false},"axis":null},
  "y":{"field":"hi","type":"quantitative","scale":{"domain":[-90,915],"nice":false,"zero":false},"axis":null},
  "y2":{"field":"lo"}}},
{"data":{"name":"tl"},
 "mark":{"type":"line","strokeWidth":1},
 "encoding":{
  "x":{"field":"n","type":"quantitative","scale":{"domain":[-0.5,864.5],"nice":false,"zero":false},"axis":null},
  "y":{"field":"h","type":"quantitative","scale":{"domain":[-90,915],"nice":false,"zero":false},"axis":null},
  "detail":{"field":"g"},
  "color":{"field":"s","type":"nominal","scale":{"domain":["rs","rd","gs","gd"],"range":["#ff0000","#ff0000","#007800","#007800"]},"legend":null},
  "strokeDash":{"field":"s","type":"nominal","scale":{"domain":["rs","rd","gs","gd"],"range":[[1,0],[3,3],[1,0],[3,3]]},"legend":null}}}
]
}
